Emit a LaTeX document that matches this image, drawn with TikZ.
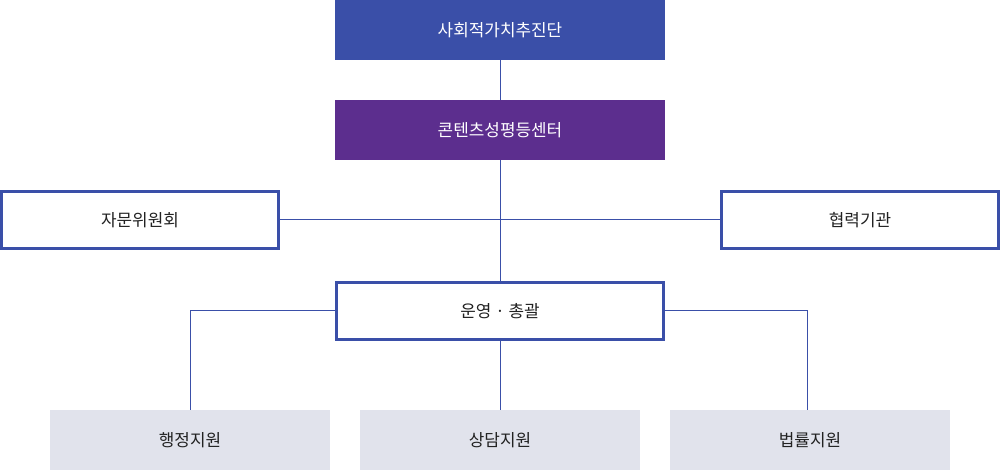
\documentclass[tikz,border=0pt]{standalone}
\usepackage{fontspec}
\setmainfont{Noto Sans CJK KR}
\usepackage{tikz}
\definecolor{orgblue}{HTML}{3A4FA8}
\definecolor{orgpurple}{HTML}{5C2E8E}
\definecolor{orggray}{HTML}{E1E3EC}
\definecolor{orgtext}{HTML}{222222}
\tikzset{
    headbox/.style={minimum width=247.5pt, minimum height=45pt, inner sep=0pt, text=white,
        font=\fontsize{12.7}{15}\selectfont},
    framebox/.style={draw=orgblue, line width=2.25pt, fill=white, minimum width=207.75pt,
        minimum height=42.75pt, inner sep=0pt, text=orgtext, font=\fontsize{12.7}{15}\selectfont},
    teambox/.style={fill=orggray, minimum width=210pt, minimum height=45pt, inner sep=0pt,
        text=orgtext, font=\fontsize{12.7}{15}\selectfont},
    link/.style={orgblue, line width=0.75pt}
}
\begin{document}
\begin{tikzpicture}[x=0.75pt,y=-0.75pt]
    \useasboundingbox (0,0) rectangle (1000,470);

    % Top levels
    \node[headbox, fill=orgblue] (top) at (500,30) {사회적가치추진단};
    \node[headbox, fill=orgpurple] (center) at (500,130) {콘텐츠성평등센터};

    % Side boxes
    \node[framebox] (advise) at (140,220) {자문위원회};
    \node[framebox] (partner) at (860,220) {협력기관};

    % Operations
    \node[framebox, minimum width=245.25pt] (ops) at (500,311) {운영 · 총괄};

    % Teams
    \node[teambox] (admin) at (190,440) {행정지원};
    \node[teambox] (counsel) at (500,440) {상담지원};
    \node[teambox] (legal) at (810,440) {법률지원};

    % Drop points above the outer teams
    \coordinate (admintop) at (190,410);
    \coordinate (legaltop) at (807,410);

    % Lines
    \draw[link] (top.south) -- (center.north);
    \draw[link] (center.south) -- (ops.north);
    \draw[link] (advise.east) -- (partner.west);
    \draw[link] (ops.south) -- (counsel.north);
    \draw[link] (ops.west) -| (admintop);
    \draw[link] (ops.east) -| (legaltop);
\end{tikzpicture}
\end{document}
